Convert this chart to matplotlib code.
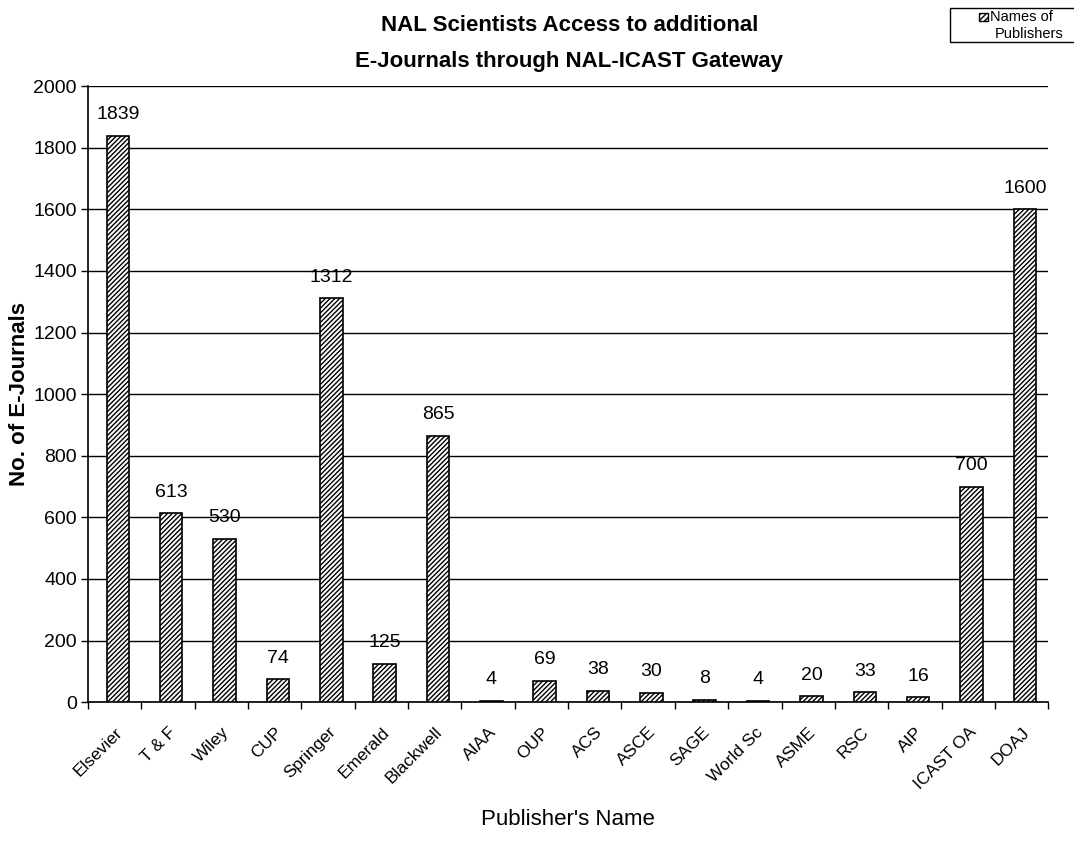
import matplotlib
matplotlib.use("Agg")
import matplotlib.pyplot as plt
import numpy as np
from matplotlib.patches import Rectangle

publishers = ["Elsevier", "T & F", "Wiley", "CUP", "Springer", "Emerald", "Blackwell",
              "AIAA", "OUP", "ACS", "ASCE", "SAGE", "World Sc", "ASME", "RSC", "AIP",
              "ICAST OA", "DOAJ"]
journals = [1839, 613, 530, 74, 1312, 125, 865, 4, 69, 38, 30, 8, 4, 20, 33, 16, 700, 1600]
yticks = [0, 200, 400, 600, 800, 1000, 1200, 1400, 1600, 1800, 2000]

plt.rcParams['font.family'] = ['Liberation Sans', 'DejaVu Sans']
plt.rcParams['hatch.linewidth'] = 1.0

fig = plt.figure(figsize=(10.74, 8.44), dpi=100)
ax = fig.add_axes([0.082, 0.168, 0.894, 0.730])

x = np.arange(len(publishers))
bars = ax.bar(x + 0.06, journals, width=0.42, color='white', edgecolor='black',
              hatch='///////', linewidth=1.2, zorder=3)

ax.set_xlim(-0.5, len(publishers) - 0.5)
ax.set_ylim(0, 2000)
ax.set_yticks(yticks)
ax.set_yticklabels([str(v) for v in yticks], fontsize=14)
ax.yaxis.grid(True, color='black', linewidth=1.0, zorder=0)
ax.tick_params(axis='y', length=5, width=1, pad=3)

ax.set_xticks(x)
ax.set_xticklabels(publishers, rotation=45, ha='right', rotation_mode='anchor', fontsize=12.5)
ax.tick_params(axis='x', which='major', length=0, pad=16)
ax.set_xticks(np.arange(-0.5, len(publishers)), minor=True)
ax.tick_params(axis='x', which='minor', length=5, width=1)

for s in ['top', 'right']:
    ax.spines[s].set_visible(False)
for s in ['left', 'bottom']:
    ax.spines[s].set_linewidth(1.2)

for xi, v in zip(x, journals):
    ax.annotate(str(v), (xi + 0.06, v), xytext=(0, 9), textcoords='offset points',
                ha='center', va='bottom', fontsize=14)

ax.set_ylabel("No. of E-Journals", fontsize=16, fontweight='bold')
ax.yaxis.set_label_coords(-0.060, 0.5)
ax.set_xlabel("Publisher's Name", fontsize=16)
ax.xaxis.set_label_coords(0.5, -0.174)

fig.text(0.53, 0.970, "NAL Scientists Access to additional", ha='center', va='center',
         fontsize=16, fontweight='bold')
fig.text(0.53, 0.927, "E-Journals through NAL-ICAST Gateway", ha='center', va='center',
         fontsize=16, fontweight='bold')

# legend box
fig.patches.append(Rectangle((0.885, 0.950), 0.13, 0.041, transform=fig.transFigure,
                             facecolor='white', edgecolor='black', linewidth=1.0))
fig.patches.append(Rectangle((0.912, 0.975), 0.008, 0.010, transform=fig.transFigure,
                             facecolor='white', edgecolor='black', hatch='//////', linewidth=1.0))
fig.text(0.922, 0.980, "Names of", ha='left', va='center', fontsize=10.5)
fig.text(0.926, 0.960, "Publishers", ha='left', va='center', fontsize=10.5)

fig.savefig("out.png", dpi=100)
